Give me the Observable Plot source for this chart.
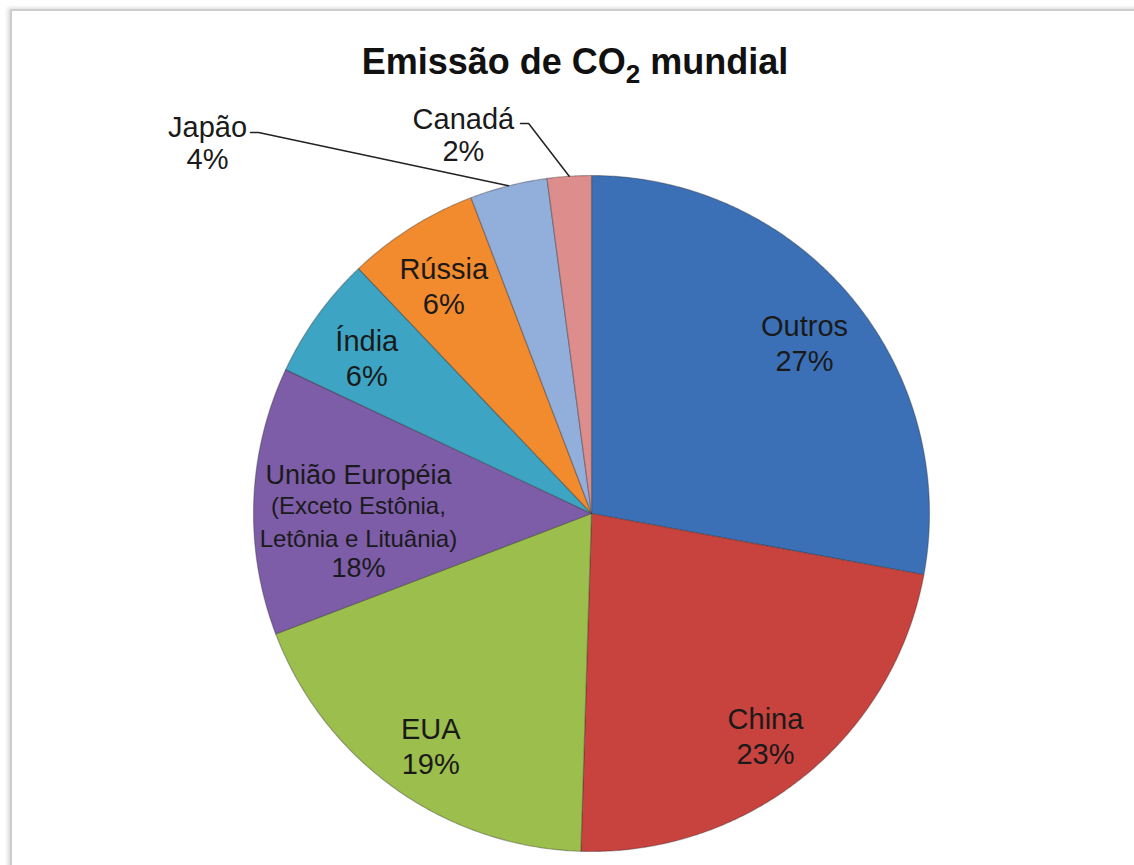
<!DOCTYPE html>
<html><head><meta charset="utf-8">
<script src="https://cdn.jsdelivr.net/npm/d3@7"></script>
<script src="https://cdn.jsdelivr.net/npm/@observablehq/plot@0.6"></script>
<style>
html,body{margin:0;padding:0;background:#fff;overflow:hidden;width:1134px;height:865px}
#wrap{position:relative;width:1134px;height:865px;overflow:hidden}
#frame{position:absolute;left:10px;top:9px;width:1200px;height:950px;border:2px solid #cdcdcd;box-shadow:-2px -1px 4px rgba(0,0,0,.16)}
#chart{position:absolute;left:0;top:0}
#title{position:absolute;left:16px;width:1118px;top:40px;text-align:center;font:bold 36px "Liberation Sans",Arial,sans-serif;color:#111;line-height:44px}
#title sub{font-size:26px;vertical-align:-9px;line-height:0}
</style></head><body>
<div id="wrap"><div id="frame"></div><div id="chart"></div><div id="title">Emissão de CO<sub>2</sub> mundial</div></div>
<script>
// ---- data (clockwise from 12 o'clock) ----
const categories = ["Outros","China","EUA","União Européia","Índia","Rússia","Japão","Canadá"];
const sliceShares = [27.9, 22.6, 18.7, 12.8, 5.9, 6.3, 3.7, 2.1]; // slice sizes as drawn
const percentLabels = ["27%","23%","19%","18%","6%","6%","4%","2%"]; // printed labels
const nameLabels = ["Outros","China","EUA","União Européia","Índia","Rússia","Japão","Canadá"];
const sliceColors = ["#3B70B6","#C8423E","#9BBE4C","#7D5CA8","#3DA5C3","#F28A2E","#92AEDB","#DE8D8D"];

// ---- layout ----
const W = 1134, H = 865, CX = 591, CY = 513, R = 338;
const data = categories.map((c,i)=>({name:c, value:sliceShares[i], pct:percentLabels[i], label:nameLabels[i]}));
const arcs = d3.pie().sort(null).value(d=>d.value)(data);

const poly = [];
arcs.forEach(a=>{
  poly.push({name:a.data.name, x:0, y:0});
  const n = Math.max(4, Math.ceil((a.endAngle-a.startAngle)/0.008));
  for(let k=0;k<=n;k++){
    const t = a.startAngle + (a.endAngle-a.startAngle)*k/n;
    poly.push({name:a.data.name, x:Math.sin(t), y:Math.cos(t)});
  }
});
const mid = a => (a.startAngle+a.endAngle)/2;
const inside = arcs.filter(a=>!["Japão","Canadá","União Européia"].includes(a.data.name))
  .map(a=>({x:0.82*Math.sin(mid(a)), y:0.82*Math.cos(mid(a)), text:a.data.label+"\n"+a.data.pct}));
const ue = arcs.find(a=>a.data.name==="União Européia");
const ueX = 0.69*Math.sin(mid(ue)), ueY = 0.69*Math.cos(mid(ue)) - 0.04;

// outside labels: label anchor + leader start (data units)
const outsideLayout = {"Japão":{lx:-1.136, ly:1.098, sx:-1.009, ex:-0.985, sy:1.127},
                       "Canadá":{lx:-0.379, ly:1.121, sx:-0.210, ex:-0.186, sy:1.154}};
const outside = [], leaders = [];
arcs.filter(a=>outsideLayout[a.data.name]).forEach(a=>{
  const L = outsideLayout[a.data.name];
  outside.push({x:L.lx, y:L.ly, text:a.data.label+"\n"+a.data.pct});
  leaders.push({id:a.data.name, x:L.sx, y:L.sy},{id:a.data.name, x:L.ex, y:L.sy},
               {id:a.data.name, x:Math.sin(mid(a)), y:Math.cos(mid(a))});
});

const font = "Liberation Sans, Arial, sans-serif";
const chart = Plot.plot({
  width: W, height: H, margin: 0,
  style: {background:"transparent", fontFamily: font},
  x: {domain:[-CX/R, (W-CX)/R], axis:null},
  y: {domain:[-(H-CY)/R, CY/R], axis:null},
  color: {domain: categories, range: sliceColors},
  marks: [
    Plot.line(poly, {x:"x", y:"y", z:"name", fill:"name", stroke:"#2a2a2a", strokeOpacity:0.35, strokeWidth:1.2, curve:"linear-closed"}),
    Plot.line(leaders, {x:"x", y:"y", z:"id", stroke:"#222", strokeWidth:1.5}),
    Plot.text(inside, {x:"x", y:"y", text:"text", fontSize:29, lineHeight:1.2, fill:"#1a1a1a", dy:6}),
    Plot.text([{x:ueX, y:ueY}], {x:"x", y:"y", text:()=> ue.data.label, fontSize:27, fill:"#1a1a1a", dy:-43}),
    Plot.text([{x:ueX, y:ueY}], {x:"x", y:"y", text:()=> "(Exceto Estônia,\nLetônia e Lituânia)", fontSize:24, lineHeight:1.35, fill:"#1a1a1a", dy:2}),
    Plot.text([{x:ueX, y:ueY}], {x:"x", y:"y", text:()=> ue.data.pct, fontSize:27, fill:"#1a1a1a", dy:50}),
    Plot.text(outside, {x:"x", y:"y", text:"text", fontSize:29, lineHeight:1.1, fill:"#1a1a1a"})
  ]
});
document.getElementById("chart").appendChild(chart);
</script>
</body></html>
